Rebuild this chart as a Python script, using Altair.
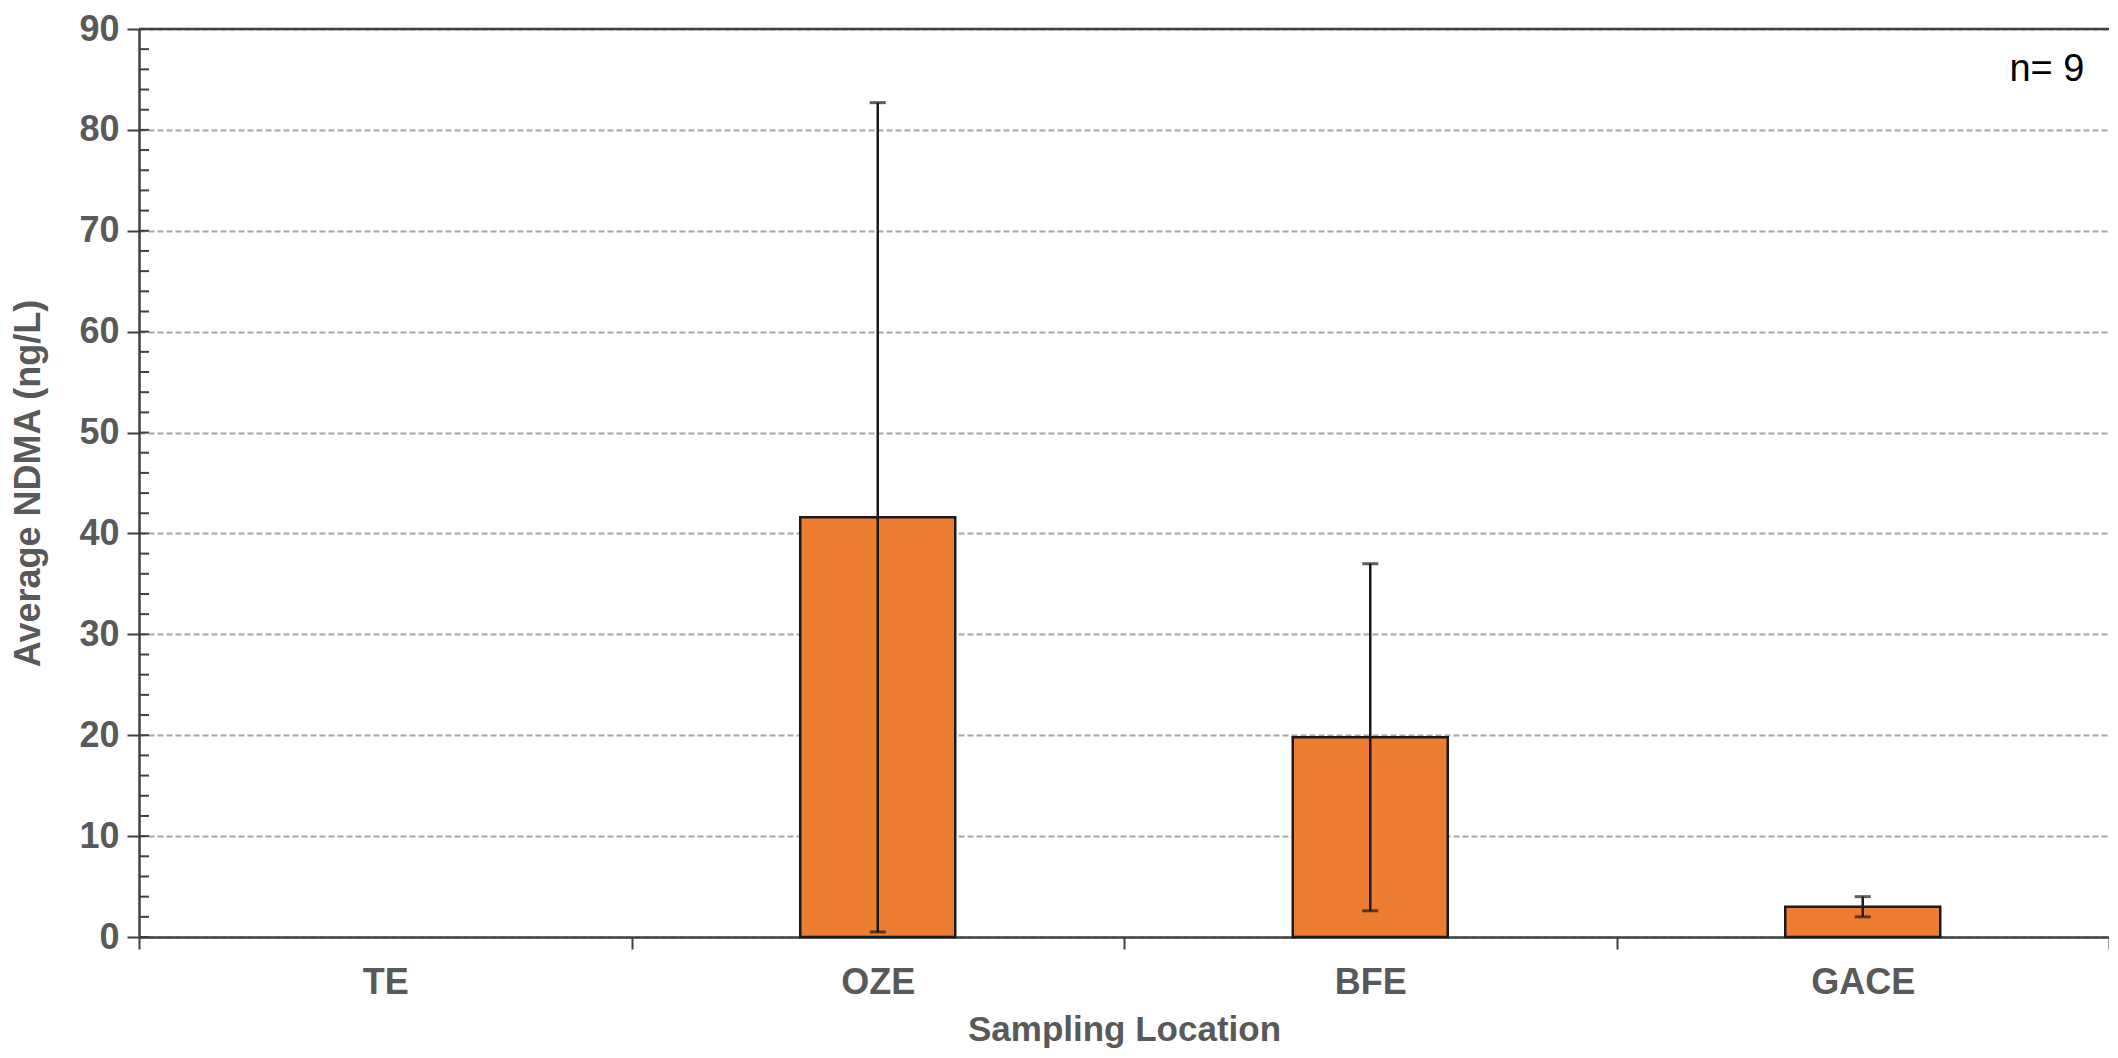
import altair as alt
import pandas as pd

# ---- data ----
locations = ["TE", "OZE", "BFE", "GACE"]
mean_ndma = [0.0, 41.6, 19.8, 3.0]
sd_ndma = [0.0, 41.1, 17.2, 1.0]
y_major_ticks = [0, 10, 20, 30, 40, 50, 60, 70, 80, 90]
y_minor_ticks = [2, 4, 6, 8, 12, 14, 16, 18, 22, 24, 26, 28, 32, 34, 36, 38,
                 42, 44, 46, 48, 52, 54, 56, 58, 62, 64, 66, 68, 72, 74, 76, 78,
                 82, 84, 86, 88]
y_top = [90]
n_label = ["n= 9"]

df = pd.DataFrame({
    "loc": locations,
    "mean": mean_ndma,
    "sd": sd_ndma,
})
df["lo"] = df["mean"] - df["sd"]
df["hi"] = df["mean"] + df["sd"]

W, H = 1970, 908
FONT = "Liberation Sans"
GREY = "#595959"
AXIS = "#404040"

x_enc = alt.X(
    "loc:N",
    sort=locations,
    scale=alt.Scale(domain=locations, paddingInner=0, paddingOuter=0),
    axis=alt.Axis(
        title="Sampling Location",
        labelAngle=0,
        tickBand="extent",
        tickSize=12,
        tickWidth=2,
        tickColor=AXIS,
        domainColor=AXIS,
        domainWidth=2.5,
        labelFont=FONT,
        labelFontSize=36,
        labelFontWeight="bold",
        labelColor=GREY,
        labelPadding=16,
        titleFont=FONT,
        titleFontSize=35,
        titleFontWeight="bold",
        titleColor=GREY,
        titleY=92,
        titleBaseline="middle",
        grid=False,
    ),
)

y_scale = alt.Scale(domain=[0, 90], nice=False)
y_axis = alt.Axis(
    title="Average NDMA (ng/L)",
    values=y_major_ticks,
    tickSize=12,
    tickWidth=2,
    tickColor=AXIS,
    domainColor=AXIS,
    domainWidth=2.5,
    labelFont=FONT,
    labelFontSize=36,
    labelFontWeight="bold",
    labelColor=GREY,
    labelPadding=8,
    titleFont=FONT,
    titleFontSize=36,
    titleFontWeight="bold",
    titleColor=GREY,
    titleAngle=-90,
    titleX=-111,
    titleY=H / 2,
    titleAlign="center",
    titleBaseline="middle",
    grid=True,
    gridDash=[6, 3],
    gridColor="#a6a6a6",
    gridWidth=2,
)

bars = alt.Chart(df).mark_bar(
    size=155, color="#ED7D31", stroke="#1a1a1a", strokeWidth=2.5
).encode(
    x=x_enc,
    y=alt.Y("mean:Q", scale=y_scale, axis=y_axis),
).transform_filter(alt.datum.mean > 0)

err = alt.Chart(df).mark_rule(color="#1a1a1a", strokeWidth=2.5).encode(
    x=alt.X("loc:N", sort=locations),
    y="lo:Q",
    y2="hi:Q",
).transform_filter(alt.datum.sd > 0)

cap_hi = alt.Chart(df).mark_tick(color="#1a1a1a", size=16, thickness=3).encode(
    x=alt.X("loc:N", sort=locations),
    y="hi:Q",
).transform_filter(alt.datum.sd > 0)

cap_lo = alt.Chart(df).mark_tick(color="#1a1a1a", size=16, thickness=3).encode(
    x=alt.X("loc:N", sort=locations),
    y="lo:Q",
).transform_filter(alt.datum.sd > 0)

minor = alt.Chart(pd.DataFrame({"v": y_minor_ticks + y_major_ticks})).mark_rule(
    color=AXIS, strokeWidth=2
).encode(
    x=alt.value(0),
    x2=alt.value(10),
    y="v:Q",
)

top = alt.Chart(pd.DataFrame({"v": y_top})).mark_rule(
    color=AXIS, strokeWidth=2.5
).encode(y="v:Q")

ntext = alt.Chart(pd.DataFrame({"t": n_label})).mark_text(
    font=FONT, fontSize=38, color="#000000", align="center", baseline="middle"
).encode(
    text="t:N",
    x=alt.value(W - 62),
    y=alt.value(41),
)

chart = alt.layer(bars, err, cap_hi, cap_lo, minor, top, ntext).properties(
    width=W,
    height=H,
    autosize=alt.AutoSizeParams(type="none"),
    padding={"left": 131, "top": 21, "right": 0, "bottom": 112},
).configure_view(stroke=None).configure(background="white")

chart.save("out.html", embed_options={"renderer": "svg", "actions": False})
